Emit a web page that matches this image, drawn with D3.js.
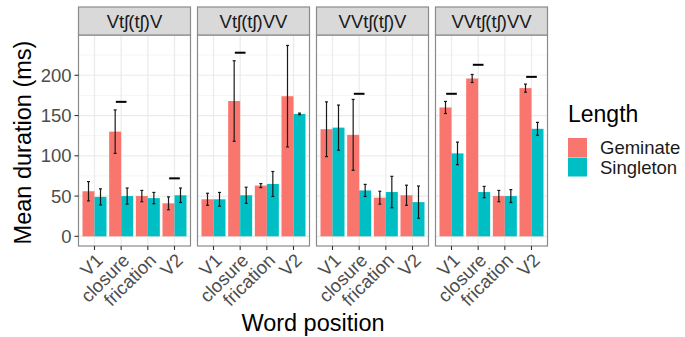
<!DOCTYPE html>
<html>
<head>
<meta charset="utf-8">
<script src="https://cdn.jsdelivr.net/npm/d3@7"></script>
<style>
  body { margin: 0; background: #fff; }
  svg text { font-family: "Liberation Sans", Arial, sans-serif; }
</style>
</head>
<body>
<script>
// facets, x categories and fill groups
var panels = ["Vtʃ(tʃ)V", "Vtʃ(tʃ)VV", "VVtʃ(tʃ)V", "VVtʃ(tʃ)VV"];
var positions = ["V1", "closure", "frication", "V2"];
var lengths = ["Geminate", "Singleton"];

// mean durations (ms), one row per panel, one column per position
var geminateMean = [[56, 130, 50, 41], [46, 168, 63, 174], [133, 126, 48, 51], [160, 196, 50, 184]];
var geminateErr  = [[12, 27, 7, 8], [7.5, 50, 2.5, 63], [34, 44, 8, 12.5], [7.5, 5, 7, 5]];
var singletonMean = [[49, 50, 47.5, 51], [46, 51, 65, 152], [135, 57, 55, 42.5], [103, 55, 50, 133.5]];
var singletonErr  = [[10, 10, 7, 9], [8.5, 10, 15.5, 1], [28, 7.5, 19.5, 20], [14, 7, 8, 8]];

// significance dashes: panel index, position, height (ms)
var sigPanel = [0, 0, 1, 2, 3, 3, 3];
var sigPos = ["closure", "V2", "closure", "closure", "V1", "closure", "V2"];
var sigValue = [167, 72, 228, 177, 177, 213, 198];

var yTicks = [0, 50, 100, 150, 200];
var yMinor = [25, 75, 125, 175, 225];

var colors = {Geminate: "#F8766D", Singleton: "#00BFC4"};

var W = 685, H = 337;
var plotLeft = 78.5, panelW = 112, gap = 7;
var plotTop = 35, plotBottom = 246, stripTop = 7;

var svg = d3.select("body").append("svg")
    .attr("width", W)
    .attr("height", H);

var y = d3.scaleLinear().domain([-12, 250]).range([plotBottom, plotTop]);
var x = d3.scalePoint().domain(positions).range([0, panelW]).padding(0.6);
var step = x.step();

// build rows
var rows = [];
panels.forEach(function(p, pi) {
    positions.forEach(function(pos, j) {
        rows.push({panel: pi, pos: pos, len: "Geminate", v: geminateMean[pi][j], e: geminateErr[pi][j]});
        rows.push({panel: pi, pos: pos, len: "Singleton", v: singletonMean[pi][j], e: singletonErr[pi][j]});
    });
});

panels.forEach(function(p, pi) {
    var g = svg.append("g")
        .attr("transform", "translate(" + (plotLeft + pi * (panelW + gap)) + ",0)");

    // minor grid
    g.selectAll("line.minor").data(yMinor).enter().append("line")
        .attr("x1", 0).attr("x2", panelW)
        .attr("y1", function(d) { return y(d); })
        .attr("y2", function(d) { return y(d); })
        .attr("stroke", "#F2F2F2").attr("stroke-width", 0.8);
    // major grid
    g.selectAll("line.major").data(yTicks).enter().append("line")
        .attr("x1", 0).attr("x2", panelW)
        .attr("y1", function(d) { return y(d); })
        .attr("y2", function(d) { return y(d); })
        .attr("stroke", "#EBEBEB").attr("stroke-width", 1.2);
    g.selectAll("line.vgrid").data(positions).enter().append("line")
        .attr("x1", function(d) { return x(d); })
        .attr("x2", function(d) { return x(d); })
        .attr("y1", plotTop).attr("y2", plotBottom)
        .attr("stroke", "#EBEBEB").attr("stroke-width", 1.2);

    var data = rows.filter(function(r) { return r.panel === pi; });

    // bars
    g.selectAll("rect.bar").data(data).enter().append("rect")
        .attr("x", function(d) { return x(d.pos) + (d.len === "Geminate" ? -0.45 * step : 0); })
        .attr("width", 0.45 * step)
        .attr("y", function(d) { return y(d.v); })
        .attr("height", function(d) { return y(0) - y(d.v); })
        .attr("fill", function(d) { return colors[d.len]; });

    // error bars
    var eb = g.selectAll("g.err").data(data).enter().append("g")
        .attr("transform", function(d) {
            return "translate(" + (x(d.pos) + (d.len === "Geminate" ? -0.225 : 0.225) * step) + ",0)";
        });
    eb.append("line")
        .attr("y1", function(d) { return y(d.v - d.e); })
        .attr("y2", function(d) { return y(d.v + d.e); })
        .attr("stroke", "#1a1a1a").attr("stroke-width", 1.2);
    eb.append("line")
        .attr("x1", -1.5).attr("x2", 1.5)
        .attr("y1", function(d) { return y(d.v - d.e); })
        .attr("y2", function(d) { return y(d.v - d.e); })
        .attr("stroke", "#1a1a1a").attr("stroke-width", 1.2);
    eb.append("line")
        .attr("x1", -1.5).attr("x2", 1.5)
        .attr("y1", function(d) { return y(d.v + d.e); })
        .attr("y2", function(d) { return y(d.v + d.e); })
        .attr("stroke", "#1a1a1a").attr("stroke-width", 1.2);

    // significance dashes
    var sig = sigValue.map(function(v, k) { return {p: sigPanel[k], pos: sigPos[k], v: v}; })
        .filter(function(s) { return s.p === pi; });
    g.selectAll("line.sig").data(sig).enter().append("line")
        .attr("x1", function(d) { return x(d.pos) - 0.2 * step; })
        .attr("x2", function(d) { return x(d.pos) + 0.2 * step; })
        .attr("y1", function(d) { return y(d.v); })
        .attr("y2", function(d) { return y(d.v); })
        .attr("stroke", "#000").attr("stroke-width", 2);

    // panel border
    g.append("rect")
        .attr("x", 0).attr("y", plotTop)
        .attr("width", panelW).attr("height", plotBottom - plotTop)
        .attr("fill", "none").attr("stroke", "#8a8a8a").attr("stroke-width", 1.2);

    // strip
    g.append("rect")
        .attr("x", 0).attr("y", stripTop)
        .attr("width", panelW).attr("height", plotTop - stripTop)
        .attr("fill", "#D9D9D9").attr("stroke", "#8a8a8a").attr("stroke-width", 1.2);
    g.append("text")
        .attr("x", panelW / 2).attr("y", (stripTop + plotTop) / 2)
        .attr("dy", "0.36em")
        .attr("text-anchor", "middle")
        .attr("font-size", 18.5)
        .attr("fill", "#1A1A1A")
        .text(p);

    // x axis ticks and labels
    g.selectAll("line.xtick").data(positions).enter().append("line")
        .attr("x1", function(d) { return x(d); })
        .attr("x2", function(d) { return x(d); })
        .attr("y1", plotBottom).attr("y2", plotBottom + 4)
        .attr("stroke", "#333").attr("stroke-width", 1.1);
    g.selectAll("text.xlab").data(positions).enter().append("text")
        .attr("transform", function(d) { return "translate(" + x(d) + "," + (plotBottom + 6) + ") rotate(-45)"; })
        .attr("text-anchor", "end")
        .attr("dy", "0.72em")
        .attr("font-size", 18.5)
        .attr("fill", "#4D4D4D")
        .text(function(d) { return d; });
});

// y axis
var yAxis = svg.append("g").attr("transform", "translate(" + plotLeft + ",0)");
yAxis.selectAll("line").data(yTicks).enter().append("line")
    .attr("x1", -4).attr("x2", 0)
    .attr("y1", function(d) { return y(d); })
    .attr("y2", function(d) { return y(d); })
    .attr("stroke", "#333").attr("stroke-width", 1.1);
yAxis.selectAll("text").data(yTicks).enter().append("text")
    .attr("x", -7)
    .attr("y", function(d) { return y(d); })
    .attr("dy", "0.36em")
    .attr("text-anchor", "end")
    .attr("font-size", 18.5)
    .attr("fill", "#4D4D4D")
    .text(function(d) { return d; });

// axis titles
svg.append("text")
    .attr("transform", "translate(31," + ((plotTop + plotBottom) / 2 + 2) + ") rotate(-90)")
    .attr("text-anchor", "middle")
    .attr("font-size", 23.5)
    .attr("fill", "#000")
    .text("Mean duration (ms)");
svg.append("text")
    .attr("x", plotLeft + (4 * panelW + 3 * gap) / 2)
    .attr("y", 331)
    .attr("text-anchor", "middle")
    .attr("font-size", 23.5)
    .attr("fill", "#000")
    .text("Word position");

// legend
var legend = svg.append("g").attr("transform", "translate(568,0)");
legend.append("text")
    .attr("x", 0).attr("y", 122)
    .attr("font-size", 23)
    .attr("fill", "#000")
    .text("Length");
lengths.forEach(function(l, k) {
    legend.append("rect")
        .attr("x", 0).attr("y", 138 + k * 19.5)
        .attr("width", 19).attr("height", 19)
        .attr("fill", colors[l]);
    legend.append("text")
        .attr("x", 32).attr("y", 138 + k * 19.5 + 9.5)
        .attr("dy", "0.36em")
        .attr("font-size", 18.5)
        .attr("fill", "#1A1A1A")
        .text(l);
});
</script>
</body>
</html>
